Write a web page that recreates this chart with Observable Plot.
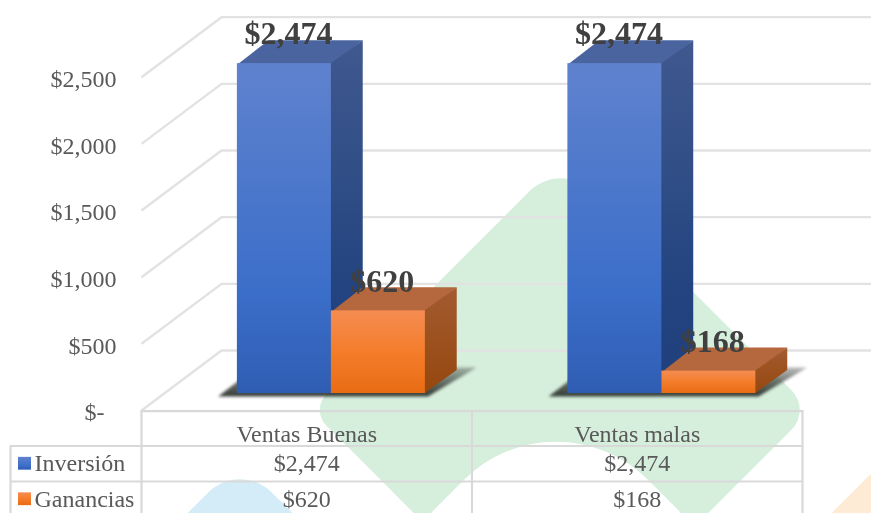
<!DOCTYPE html>
<html>
<head>
<meta charset="utf-8">
<script src="https://cdn.jsdelivr.net/npm/d3@7"></script>
<script src="https://cdn.jsdelivr.net/npm/@observablehq/plot@0.6"></script>
<style>
html,body{margin:0;padding:0;background:#fff;width:871px;height:513px;overflow:hidden}
#wrap{position:relative;width:871px;height:513px;overflow:hidden}
.wm{position:absolute;transform:translate(-50%,-50%) rotate(45deg)}
#chart{position:absolute;left:0;top:0}
#chart svg{filter:blur(.45px)}
</style>
</head>
<body>
<div id="wrap">
<div class="wm" style="left:561px;top:410px;width:354px;height:354px;border-radius:45px 28px 30px 22px;background:#D6EEDC"></div>
<div class="wm" style="left:556px;top:600px;width:300px;height:300px;border-radius:130px;background:#fff"></div>
<div class="wm" style="left:240px;top:602px;width:200px;height:200px;border-radius:45px;background:#D3ECF7"></div>
<div class="wm" style="left:900px;top:586px;width:200px;height:200px;border-radius:45px;background:#FDEBD6"></div>
<svg width="0" height="0" style="position:absolute">
<defs>
<linearGradient id="blueFront" x1="0" y1="0" x2="0" y2="1"><stop offset="0" stop-color="#5F82CE"/><stop offset=".7" stop-color="#3B6EC9"/><stop offset="1" stop-color="#2F5DB3"/></linearGradient>
<linearGradient id="orangeFront" x1="0" y1="0" x2="0" y2="1"><stop offset="0" stop-color="#F58C52"/><stop offset=".5" stop-color="#F47D2B"/><stop offset="1" stop-color="#E96C14"/></linearGradient>
<linearGradient id="blueSide" x1="0" y1="0" x2="0" y2="1"><stop offset="0" stop-color="#40598F"/><stop offset=".7" stop-color="#234480"/><stop offset="1" stop-color="#203F7C"/></linearGradient>
<linearGradient id="orangeSide" x1="0" y1="0" x2="0" y2="1"><stop offset="0" stop-color="#A35B30"/><stop offset="1" stop-color="#95470E"/></linearGradient>
<linearGradient id="shadowFade" x1="0" y1="0" x2="0" y2="1"><stop offset="0" stop-color="#3A403B" stop-opacity=".35"/><stop offset=".6" stop-color="#3A403B" stop-opacity=".8"/><stop offset="1" stop-color="#333A35" stop-opacity="1"/></linearGradient>
</defs>
</svg>
<div id="chart"></div>
</div>
<script>
const categories = ["Ventas Buenas", "Ventas malas"];
const seriesNames = ["Inversión", "Ganancias"];
const inversion = [2474, 2474];
const ganancias = [620, 168];
const yTicks = [0, 500, 1000, 1500, 2000, 2500];
const yTickLabels = ["$-\u00a0\u00a0", "$500", "$1,000", "$1,500", "$2,000", "$2,500"];

const money = d3.format(",");
const dollars = v => "$" + money(v);
const seriesValues = [inversion, ganancias];

// oblique projection, in data units
const depthX = 80 / 330.5, depthY = 450;
const barW = 0.2844, frontZ = 0.283, backZ = 0.675, seam = 0.004;
const pt = (x, v, z, id) => ({x: x + depthX * z, y: v + depthY * z, id});

const bars = categories.flatMap((c, i) => seriesNames.map((s, j) => {
  const x0 = i + 0.506 + (j - 1) * barW;
  return {i, j, value: seriesValues[j][i], x0, x1: x0 + barW};
}));
const byS = j => bars.filter(b => b.j === j);
const topFace = bs => bs.flatMap(b => [pt(b.x0, b.value - 6, frontZ, b.i), pt(b.x1, b.value - 6, frontZ, b.i), pt(b.x1, b.value, backZ, b.i), pt(b.x0, b.value, backZ, b.i)]);
const sideFace = bs => bs.flatMap(b => [pt(b.x1 - seam, 0, frontZ, b.i), pt(b.x1 - seam, b.value, frontZ, b.i), pt(b.x1, b.value, backZ, b.i), pt(b.x1, 0, backZ, b.i)]);
const shadows = categories.flatMap((c, i) => {
  const l = i + 0.506 - barW - 0.05, r = i + 0.506 + barW + 0.05, rn = i + 0.506 + barW + 0.02;
  return [pt(l + 0.004, 0, 0.233, i), pt(rn, 0, 0.233, i), pt(r, 0, 0.717, i), pt(l, 0, 0.717, i)];
});

const front = (j, fill) => Plot.rect(byS(j), {
  x1: b => b.x0 + depthX * frontZ, x2: b => b.x1 + depthX * frontZ,
  y1: depthY * frontZ, y2: b => b.value + depthY * frontZ, fill});
const face = (data, fill) => Plot.line(data, {x: "x", y: "y", z: "id", fill, stroke: "none"});
const blurred = (index, scales, values, dims, context, next) => {
  const g = next(index, scales, values, dims, context);
  g.style.filter = "blur(1.8px)";
  return g;
};

// table geometry in data units
const rowH = 35.5 / (333.3 / 2500);
const tableLeft = -131 / 330.5, rowLabelX = -107 / 330.5;
const rowY = k => -rowH * k;
const gridStroke = "#E2E2E2", tableStroke = "#D9D9D9";
const serif = "Liberation Serif";
const keyX1 = -123 / 330.5, keyX2 = -110 / 330.5;

const chart = Plot.plot({
  width: 871, height: 513,
  margin: 0,
  style: {background: "transparent", fontFamily: serif},
  x: {domain: [0, 2], range: [141, 802], axis: null},
  y: {domain: [0, 2500], range: [410, 76.67], axis: null},
  marks: [
    // walls
    Plot.ruleY(yTicks, {x1: depthX, x2: 2 + depthX, y: d => d + depthY, stroke: gridStroke, strokeWidth: 2.4}),
    Plot.link(yTicks, {x1: 0, y1: d => d, x2: depthX, y2: d => d + depthY, stroke: gridStroke, strokeWidth: 2.4}),
    // table
    Plot.ruleY([0], {x1: 0, x2: 2, y: d => d - 5, stroke: tableStroke, strokeWidth: 2.4}),
    Plot.ruleY([1, 2, 3], {x1: tableLeft, x2: 2, y: rowY, stroke: tableStroke, strokeWidth: 2.2}),
    Plot.ruleX([0, 1, 2], {x: d => d, y1: 0, y2: rowY(3), stroke: tableStroke, strokeWidth: 2.2}),
    Plot.ruleX([tableLeft], {x: d => d, y1: rowY(1), y2: rowY(3), stroke: tableStroke, strokeWidth: 2.2}),
    // shadows
    Plot.line(shadows, {x: "x", y: "y", z: "id", fill: "url(#shadowFade)", stroke: "none", render: blurred}),
    // bars
    face(topFace(byS(0)), "#4A64A0"),
    face(sideFace(byS(0)), "url(#blueSide)"),
    front(0, "url(#blueFront)"),
    face(topFace(byS(1)), "#B5673D"),
    face(sideFace(byS(1)), "url(#orangeSide)"),
    front(1, "url(#orangeFront)"),
    // y labels
    Plot.text(yTicks, {x: 0, y: d => d, text: (d, i) => yTickLabels[i], textAnchor: "end", dx: -25, dy: 2, fontSize: 24, fill: "#595959"}),
    // data labels
    Plot.text(bars, {x: b => (b.x0 + b.x1) / 2 + depthX * frontZ, y: b => b.value + depthY * frontZ, text: b => dollars(b.value),
      dx: 4, dy: -29.5, fontSize: 32, fontWeight: "bold", fill: "#404040"}),
    // table texts
    Plot.text(categories, {x: (c, i) => i + 0.5, y: rowY(0.5), text: d => d, dy: 6, fontSize: 24, fill: "#595959"}),
    Plot.text(bars, {x: b => b.i + 0.5, y: b => rowY(b.j + 1.5), text: b => dollars(b.value), fontSize: 24, fill: "#595959"}),
    Plot.text(seriesNames, {x: rowLabelX, y: (d, j) => rowY(j + 1.5), text: d => d, textAnchor: "start", fontSize: 24, fill: "#595959"}),
    // legend keys
    Plot.rect([seriesNames[0]], {x1: keyX1, x2: keyX2, y1: rowY(1.5) + 48, y2: rowY(1.5) - 48, fill: "url(#blueFront)"}),
    Plot.rect([seriesNames[1]], {x1: keyX1, x2: keyX2, y1: rowY(2.5) + 48, y2: rowY(2.5) - 48, fill: "url(#orangeFront)"})
  ]
});
document.getElementById("chart").appendChild(chart);
</script>
</body>
</html>
